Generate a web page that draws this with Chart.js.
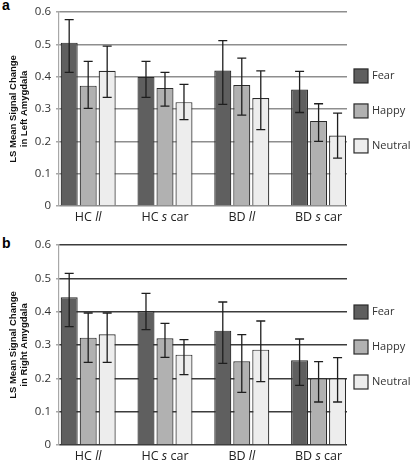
<!DOCTYPE html>
<html><head><meta charset="utf-8">
<script src="https://cdn.jsdelivr.net/npm/chart.js@4"></script>
<style>
body{margin:0;background:#fff;width:411px;height:466px;position:relative;overflow:hidden}
canvas{position:absolute;left:0}
.lab{position:absolute;font:bold 14px "Liberation Sans",Arial,sans-serif;color:#000;line-height:14px}
</style></head><body>
<div class="lab" style="left:2px;top:-2px">a</div>
<div class="lab" style="left:2px;top:236px">b</div>
<canvas id="ca" width="411" height="233" style="top:0"></canvas>
<canvas id="cb" width="411" height="233" style="top:233px"></canvas>
<script>
const categories = ['HC ll', 'HC s car', 'BD ll', 'BD s car'];
const italicWords = ['ll', 's', 'll', 's'];
const seriesNames = ['Fear', 'Happy', 'Neutral'];
const yTickLabels = ['0', '0.1', '0.2', '0.3', '0.4', '0.5', '0.6'];
const titleLeft = ['LS Mean Signal Change', 'in Left Amygdala'];
const titleRight = ['LS Mean Signal Change', 'in Right Amygdala'];

// Panel a: left amygdala
const leftFear = [0.505, 0.399, 0.419, 0.360];
const leftFearLow = [0.413, 0.336, 0.314, 0.289];
const leftFearHigh = [0.576, 0.447, 0.511, 0.416];
const leftHappy = [0.372, 0.365, 0.374, 0.263];
const leftHappyLow = [0.302, 0.309, 0.281, 0.200];
const leftHappyHigh = [0.447, 0.413, 0.457, 0.316];
const leftNeutral = [0.418, 0.321, 0.334, 0.218];
const leftNeutralLow = [0.336, 0.267, 0.236, 0.148];
const leftNeutralHigh = [0.494, 0.376, 0.418, 0.287];

// Panel b: right amygdala
const rightFear = [0.443, 0.402, 0.343, 0.254];
const rightFearLow = [0.355, 0.346, 0.245, 0.179];
const rightFearHigh = [0.515, 0.455, 0.429, 0.318];
const rightHappy = [0.322, 0.320, 0.251, 0.200];
const rightHappyLow = [0.248, 0.263, 0.158, 0.129];
const rightHappyHigh = [0.396, 0.365, 0.331, 0.250];
const rightNeutral = [0.332, 0.271, 0.286, 0.200];
const rightNeutralLow = [0.248, 0.211, 0.190, 0.129];
const rightNeutralHigh = [0.396, 0.316, 0.372, 0.262];

const fills = ['#5f5f5f', '#b1b1b1', '#ededed'];
const FONT = '"Open Sans", "DejaVu Sans", sans-serif';

const errorBars = {
  id: 'errorBars',
  afterDatasetsDraw(chart) {
    const ctx = chart.ctx, ys = chart.scales.y;
    ctx.save();
    ctx.strokeStyle = '#1e1e1e';
    ctx.lineWidth = 1.3;
    chart.data.datasets.forEach((ds, di) => {
      const meta = chart.getDatasetMeta(di);
      meta.data.forEach((bar, j) => {
        const yl = ys.getPixelForValue(ds.errLow[j]);
        const yh = ys.getPixelForValue(ds.errHigh[j]);
        const x = bar.x, c = 4.5;
        ctx.beginPath();
        ctx.moveTo(x, yl); ctx.lineTo(x, yh);
        ctx.moveTo(x - c, yh); ctx.lineTo(x + c, yh);
        ctx.moveTo(x - c, yl); ctx.lineTo(x + c, yl);
        ctx.stroke();
      });
    });
    ctx.restore();
  }
};

const catLabels = {
  id: 'catLabels',
  afterDraw(chart) {
    const ctx = chart.ctx, xs = chart.scales.x;
    const y = chart.chartArea.bottom + 11;
    ctx.save();
    ctx.fillStyle = '#222';
    ctx.textBaseline = 'middle';
    ctx.textAlign = 'left';
    categories.forEach((lab, i) => {
      const words = lab.split(' ');
      const segs = [];
      words.forEach((w, k) => {
        const it = (w === italicWords[i] && k === 1);
        segs.push({t: w, it});
        if (k < words.length - 1) segs.push({t: ' ', it: false});
      });
      let total = 0;
      segs.forEach(s => { ctx.font = (s.it ? 'italic ' : '') + '12.5px ' + FONT; s.w = ctx.measureText(s.t).width; total += s.w; });
      let x = xs.getPixelForValue(i) - total / 2;
      segs.forEach(s => { ctx.font = (s.it ? 'italic ' : '') + '12.5px ' + FONT; ctx.fillText(s.t, x, y); x += s.w; });
    });
    ctx.restore();
  }
};

const sideLegend = {
  id: 'sideLegend',
  afterDraw(chart) {
    const ctx = chart.ctx, a = chart.chartArea;
    const mid = (a.top + a.bottom) / 2 + 2;
    const gap = 35;
    ctx.save();
    ctx.font = '11px ' + FONT;
    ctx.textBaseline = 'middle';
    ctx.textAlign = 'left';
    chart.data.datasets.forEach((ds, i) => {
      const cy = mid + (i - 1) * gap;
      const bx = a.right + 7;
      ctx.fillStyle = ds.backgroundColor;
      ctx.fillRect(bx, cy - 7, 14, 14);
      ctx.strokeStyle = '#2a2a2a';
      ctx.lineWidth = 1.2;
      ctx.strokeRect(bx, cy - 7, 14, 14);
      ctx.fillStyle = '#333';
      ctx.fillText(ds.label, bx + 18, cy);
    });
    ctx.restore();
  }
};

function makeChart(id, vals, lows, highs, title, gridColor, pad) {
  const datasets = seriesNames.map((name, k) => ({
    label: name,
    data: vals[k].map((v, i) => ({x: i, y: v})),
    errLow: lows[k],
    errHigh: highs[k],
    backgroundColor: fills[k],
    borderColor: '#2a2a2a',
    borderWidth: 1.2,
    categoryPercentage: 0.742,
    barPercentage: 0.895
  }));
  return new Chart(document.getElementById(id), {
    type: 'bar',
    data: {datasets},
    options: {
      responsive: false,
      animation: false,
      devicePixelRatio: 1,
      layout: {padding: pad},
      plugins: {legend: {display: false}, tooltip: {enabled: false}},
      scales: {
        x: {
          type: 'linear', min: -0.38, max: 3.37, display: false, offset: false,
          ticks: {stepSize: 1, includeBounds: false},
          grid: {display: false}
        },
        y: {
          min: 0, max: 0.6,
          afterFit(s) { s.width = 59; },
          ticks: {
            stepSize: 0.1, padding: 5, color: '#333',
            font: {family: FONT, size: 11.5},
            callback: (v, i) => yTickLabels[i]
          },
          grid: {color: gridColor, lineWidth: 1.4, drawTicks: true, tickLength: 3, tickColor: '#a8a8a8'},
          border: {display: true, color: '#a8a8a8', width: 1.2},
          title: {
            display: true, text: title, color: '#111',
            font: {family: '"Liberation Sans", Arial, sans-serif', size: 9.5, weight: 'bold', lineHeight: 1.2},
            padding: {top: 7.3, bottom: 0}
          }
        }
      }
    },
    plugins: [errorBars, catLabels, sideLegend]
  });
}

makeChart('ca',
  [leftFear, leftHappy, leftNeutral],
  [leftFearLow, leftHappyLow, leftNeutralLow],
  [leftFearHigh, leftHappyHigh, leftNeutralHigh],
  titleLeft, '#8e8e8e', {top: 5, bottom: 27, left: 0, right: 64});

makeChart('cb',
  [rightFear, rightHappy, rightNeutral],
  [rightFearLow, rightHappyLow, rightNeutralLow],
  [rightFearHigh, rightHappyHigh, rightNeutralHigh],
  titleRight, '#3c3c3c', {top: 12, bottom: 21, left: 0, right: 64});
</script>
</body></html>
